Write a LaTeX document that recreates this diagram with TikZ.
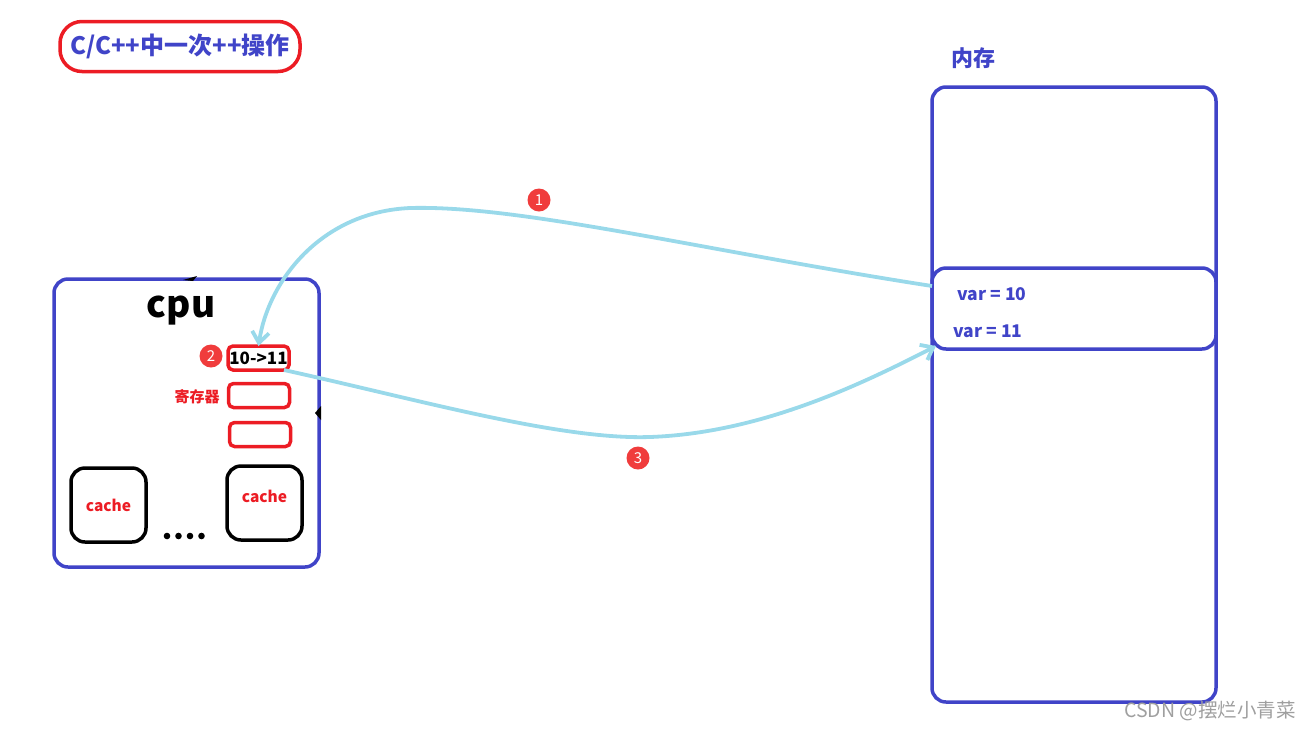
\documentclass[tikz,border=0pt]{standalone}
\usepackage{fontspec}
\setmainfont{Noto Sans CJK SC}
\usetikzlibrary{arrows.meta}
\definecolor{myblue}{RGB}{64,68,200}
\definecolor{myred}{RGB}{236,28,36}
\definecolor{flowblue}{RGB}{153,217,234}
\definecolor{badgered}{RGB}{240,60,60}
\tikzset{
  bluebox/.style={draw=myblue, line width=3.5pt, rounded corners=14pt, outer sep=0pt, inner sep=0pt},
  regbox/.style={draw=myred, line width=3.5pt, rounded corners=5pt, minimum width=61pt, minimum height=24pt, outer sep=0pt, inner sep=0pt},
  cachebox/.style={draw=black, line width=3.5pt, rounded corners=14pt, minimum width=75pt, minimum height=74pt, outer sep=0pt, inner sep=0pt},
  badge/.style={circle, fill=badgered, text=white, minimum size=23pt, inner sep=0pt, font=\fontsize{15}{15}\selectfont},
  flow/.style={draw=flowblue, line width=3.8pt, -{Straight Barb[length=11pt,width=17pt]}},
  bluetxt/.style={text=myblue, font=\bfseries\fontsize{17.5}{17.5}\selectfont},
  redtxt/.style={text=myred, font=\bfseries\fontsize{15.5}{15.5}\selectfont},
}
\begin{document}
\begin{tikzpicture}[x=1pt,y=-1pt]
\useasboundingbox (0,0) rectangle (1312,729);
% title
\node[draw=myred, line width=3.5pt, rounded corners=22pt, minimum width=240pt, minimum height=50pt, text=myblue, font=\bfseries\fontsize{24}{24}\selectfont] (title) at (180,46.5) {C/C++中一次++操作};
% memory
\node[bluetxt, font=\bfseries\fontsize{22}{22}\selectfont] (memlabel) at (973,58) {内存};
\node[bluebox, minimum width=284pt, minimum height=615pt] (mem) at (1074,394.5) {};
\node[bluebox, minimum width=284pt, minimum height=81pt] (meminner) at (1074,308.5) {};
\node[bluetxt] (v10) at (992,294) {var = 10};
\node[bluetxt] (v11) at (988,331) {var = 11};
% cpu
\node[font=\bfseries\fontsize{37}{37}\selectfont] (cpulabel) at (181,311) {cpu};
\node[bluebox, minimum width=265pt, minimum height=288pt] (cpu) at (186.5,423) {};
\node[regbox, font=\bfseries\fontsize{17}{17}\selectfont] (reg1) at (258.5,358) {10->11};
\node[regbox] (reg2) at (259,395.5) {};
\node[regbox] (reg3) at (260,434.5) {};
\node[redtxt, font=\bfseries\fontsize{15}{15}\selectfont] (reglabel) at (197,397) {寄存器};
\node[cachebox, redtxt] (cache1) at (108.5,505) {cache};
\node[cachebox, redtxt, text depth=14pt] (cache2) at (264.5,503) {cache};
\foreach \i in {0,1,2,3} \fill (167+\i*11.5,536) circle (3.3pt);
% small black marks
\fill (183,280) -- (197,276) -- (193,281) -- cycle;
\fill (315,413) -- (321,406) -- (321,420) -- cycle;
% badges
\node[badge] (b1) at (539,200) {1};
\node[badge] (b2) at (211,356) {2};
\node[badge] (b3) at (638,458) {3};
% flows
\draw[flow] (meminner.171) .. controls (700,250) and (520,205) .. (410,208)
  .. controls (320,212) and (268,282) .. (reg1.north);
\draw[flow] ([xshift=-5pt]reg1.south east) .. controls (420,400) and (560,440) .. (650,437)
  .. controls (760,433) and (860,385) .. ([xshift=4pt,yshift=3pt]meminner.south west);
% watermark
\node[text=gray!75, font=\fontsize{19.5}{19.5}\selectfont] (wm) at (1210,711) {CSDN @摆烂小青菜};
\end{tikzpicture}
\end{document}
